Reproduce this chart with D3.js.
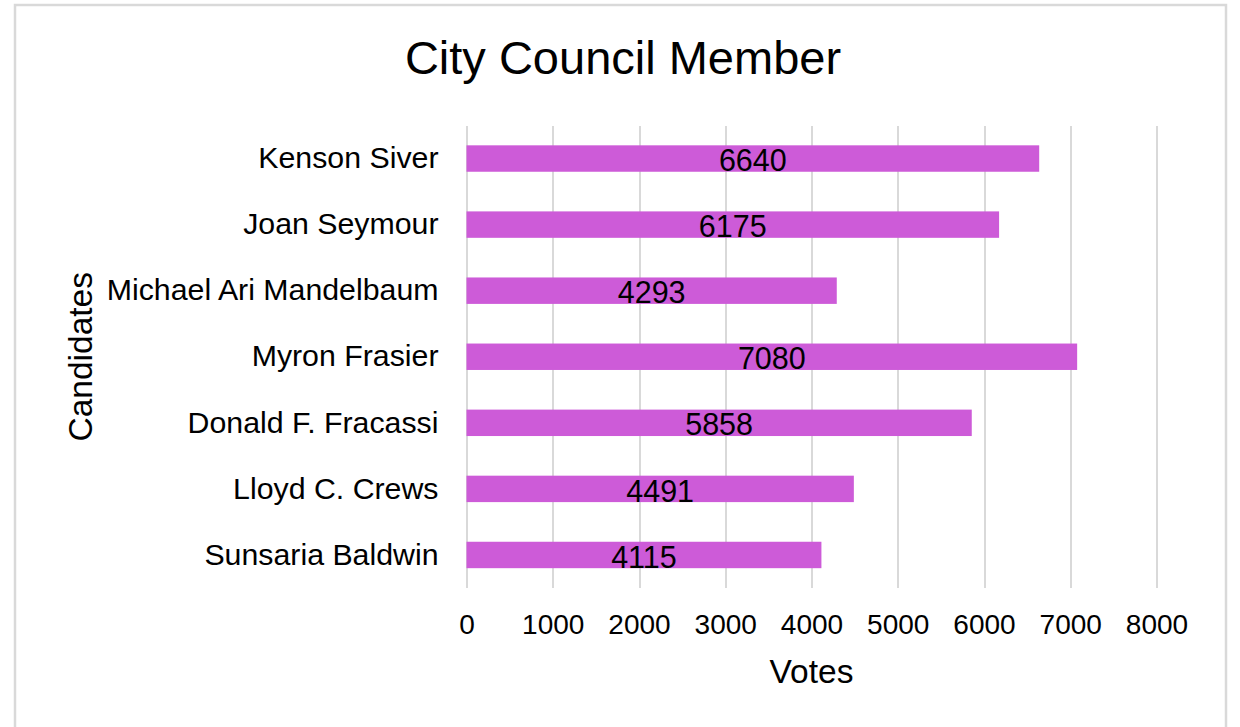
<!DOCTYPE html>
<html lang="en">
<head>
<meta charset="utf-8" />
<title>City Council Member</title>
<style>
  body { margin: 0; background: #fff; }
  #chart text { font-family: "Liberation Sans", Arial, sans-serif; fill: #000; }
  .grid line { stroke: #d9d9d9; stroke-width: 2; shape-rendering: crispEdges; }
  .grid path, .yaxis path, .yaxis line { display: none; }
</style>
</head>
<body>
<div id="chart"></div>
<script src="https://cdnjs.cloudflare.com/ajax/libs/d3/7.8.5/d3.min.js"></script>
<script>
var candidates = ["Kenson Siver", "Joan Seymour", "Michael Ari Mandelbaum", "Myron Frasier",
                  "Donald F. Fracassi", "Lloyd C. Crews", "Sunsaria Baldwin"];
var votes = [6640, 6175, 4293, 7080, 5858, 4491, 4115];
var xTicks = [0, 1000, 2000, 3000, 4000, 5000, 6000, 7000, 8000];

var width = 1240, height = 727;
var plot = {left: 466.5, right: 1156.5, top: 125.5, bottom: 588};

var svg = d3.select("#chart").append("svg")
    .attr("width", width)
    .attr("height", height);

// chart border
svg.append("rect")
    .attr("x", 15).attr("y", 5)
    .attr("width", 1211).attr("height", 740)
    .attr("fill", "#fff")
    .attr("stroke", "#d9d9d9")
    .attr("stroke-width", 2.5);

var x = d3.scaleLinear().domain([0, 8000]).range([plot.left, plot.right]);
var y = d3.scaleBand().domain(candidates).range([plot.top, plot.bottom])
    .paddingInner(0.6).paddingOuter(0.3);

// grid + x tick labels
var gx = svg.append("g")
    .attr("class", "grid")
    .attr("transform", "translate(0," + plot.bottom + ")")
    .call(d3.axisBottom(x).tickValues(xTicks).tickFormat(d3.format("d"))
      .tickSizeInner(-(plot.bottom - plot.top)).tickSizeOuter(0).tickPadding(26));
gx.selectAll("text").attr("font-size", 28);

// category labels
var gy = svg.append("g")
    .attr("class", "yaxis")
    .attr("transform", "translate(" + plot.left + ",0)")
    .call(d3.axisLeft(y).tickSize(0).tickPadding(28));
gy.selectAll("text").attr("font-size", 30.3);

var rows = candidates.map(function(c, i) { return {name: c, value: votes[i]}; });

svg.selectAll(".bar")
    .data(rows)
    .enter().append("rect")
    .attr("class", "bar")
    .attr("x", x(0))
    .attr("y", function(d) { return y(d.name); })
    .attr("width", function(d) { return x(d.value) - x(0); })
    .attr("height", y.bandwidth())
    .attr("fill", "#cd5bd8");

svg.selectAll(".val")
    .data(rows)
    .enter().append("text")
    .attr("class", "val")
    .attr("x", function(d) { return (x(0) + x(d.value)) / 2; })
    .attr("y", function(d) { return y(d.name) + y.bandwidth() / 2 + 2; })
    .attr("dy", "0.35em")
    .attr("text-anchor", "middle")
    .attr("font-size", 30.5)
    .text(function(d) { return d.value; });

// title
svg.append("text")
    .attr("x", 623).attr("y", 74)
    .attr("text-anchor", "middle")
    .attr("font-size", 47)
    .text("City Council Member");

// axis titles
svg.append("text")
    .attr("x", (plot.left + plot.right) / 2).attr("y", 683)
    .attr("text-anchor", "middle")
    .attr("font-size", 33.5)
    .text("Votes");

svg.append("text")
    .attr("transform", "translate(92," + ((plot.top + plot.bottom) / 2) + ") rotate(-90)")
    .attr("text-anchor", "middle")
    .attr("font-size", 33.5)
    .text("Candidates");
</script>
</body>
</html>
